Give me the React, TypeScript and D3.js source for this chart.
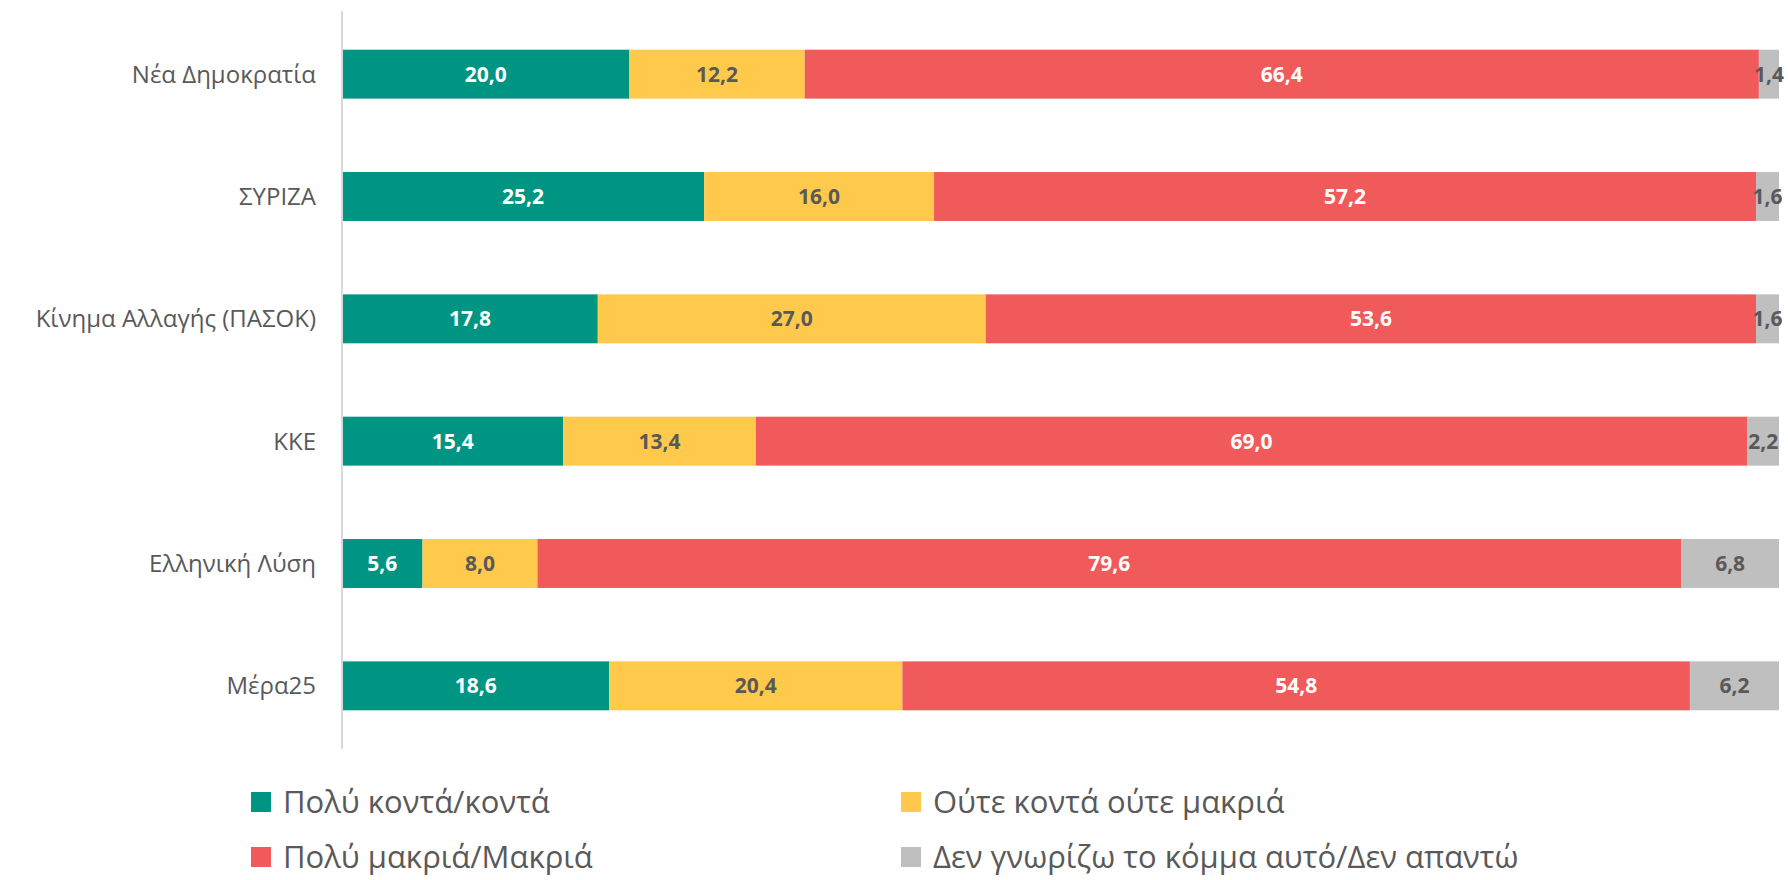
import * as d3 from 'd3';

const parties = ['Νέα Δημοκρατία', 'ΣΥΡΙΖΑ', 'Κίνημα Αλλαγής (ΠΑΣΟΚ)', 'ΚΚΕ', 'Ελληνική Λύση', 'Μέρα25'];
const seriesNames = ['Πολύ κοντά/κοντά', 'Ούτε κοντά ούτε μακριά', 'Πολύ μακριά/Μακριά', 'Δεν γνωρίζω το κόμμα αυτό/Δεν απαντώ'];
const close = [20.0, 25.2, 17.8, 15.4, 5.6, 18.6];
const neither = [12.2, 16.0, 27.0, 13.4, 8.0, 20.4];
const far = [66.4, 57.2, 53.6, 69.0, 79.6, 54.8];
const dontKnow = [1.4, 1.6, 1.6, 2.2, 6.8, 6.2];

const colors = ['#009483', '#FFC94B', '#F05A5A', '#BFBFBF'];
const labelColors = ['#ffffff', '#595959', '#ffffff', '#595959'];

const W = 1788;
const H = 880;
const font = '"Open Sans", "Noto Sans", sans-serif';

export default function App() {
    const rows = parties.map((p, i) => ({ party: p, values: [close[i], neither[i], far[i], dontKnow[i]] }));

    const x = d3.scaleLinear().domain([0, 100]).range([342, 1779]);
    const y = d3.scaleBand().domain(parties).range([13, 747]).paddingInner(0.6).paddingOuter(0.3);

    const fmt = (v: number) => d3.format('.1f')(v).replace('.', ',');

    // legend: two columns, two rows
    const legend = [
        { i: 0, x: 251, y: 802 },
        { i: 1, x: 901, y: 802 },
        { i: 2, x: 251, y: 857 },
        { i: 3, x: 901, y: 857 },
    ];

    return (
        <svg width={W} height={H} style={{ position: 'absolute', left: 0, top: 0, background: '#fff' }} fontFamily={font}>
            <rect width={W} height={H} fill="#fff" />
            {rows.map((r) => {
                const stack = d3.cumsum(r.values);
                return (
                    <g key={r.party}>
                        <text x={316} y={y(r.party)! + y.bandwidth() / 2} dy="0.35em" textAnchor="end" fontSize={24} fill="#595959">
                            {r.party}
                        </text>
                        {r.values.map((v, k) => {
                            const x0 = x(stack[k] - v);
                            const x1 = x(stack[k]);
                            return (
                                <g key={k}>
                                    <rect x={x0} y={y(r.party)} width={x1 - x0} height={y.bandwidth()} fill={colors[k]} />
                                    <text
                                        x={(x0 + x1) / 2}
                                        y={y(r.party)! + y.bandwidth() / 2}
                                        dy="0.35em"
                                        textAnchor="middle"
                                        fontSize={21}
                                        fontWeight="bold"
                                        fill={labelColors[k]}
                                    >
                                        {fmt(v)}
                                    </text>
                                </g>
                            );
                        })}
                    </g>
                );
            })}
            <line x1={342} x2={342} y1={11} y2={749} stroke="#D9D9D9" strokeWidth={2} />
            {legend.map((l) => (
                <g key={l.i}>
                    <rect x={l.x} y={l.y - 10} width={20} height={20} fill={colors[l.i]} />
                    <text x={l.x + 32} y={l.y} dy="0.35em" fontSize={31} fill="#595959">
                        {seriesNames[l.i]}
                    </text>
                </g>
            ))}
        </svg>
    );
}
